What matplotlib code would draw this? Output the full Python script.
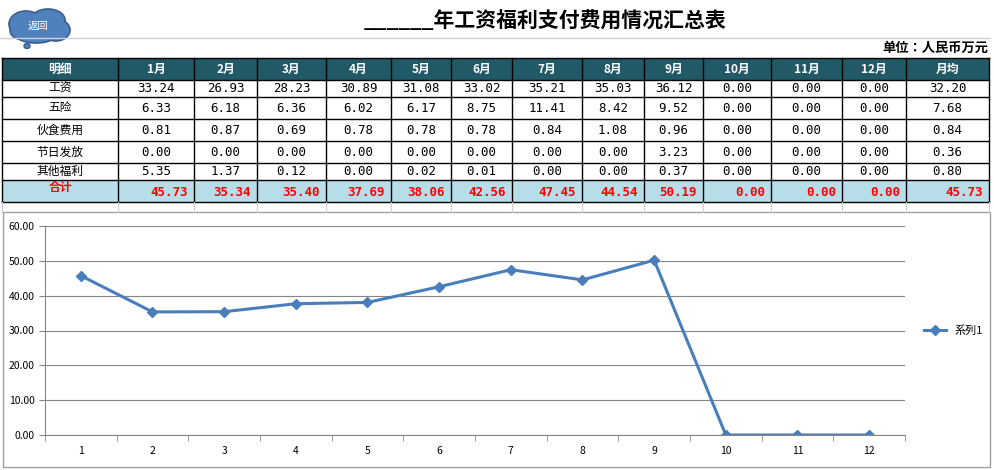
import matplotlib
matplotlib.use("Agg")
import matplotlib.pyplot as plt
from matplotlib.patches import Rectangle, Ellipse
from matplotlib import font_manager

names = {f.name for f in font_manager.fontManager.ttflist}
cjk = [n for n in ["Noto Sans CJK SC","Noto Sans CJK JP","Noto Sans CJK TC","Noto Sans CJK KR"] if n in names]
plt.rcParams["font.family"] = cjk + ["DejaVu Sans"]
MONO = ["DejaVu Sans Mono"] + cjk

months = ["1月","2月","3月","4月","5月","6月","7月","8月","9月","10月","11月","12月"]
row_names = ["工资","五险","伙食费用","节日发放","其他福利"]
wage     = [33.24,26.93,28.23,30.89,31.08,33.02,35.21,35.03,36.12,0,0,0]
insur    = [6.33,6.18,6.36,6.02,6.17,8.75,11.41,8.42,9.52,0,0,0]
food     = [0.81,0.87,0.69,0.78,0.78,0.78,0.84,1.08,0.96,0,0,0]
holiday  = [0,0,0,0,0,0,0,0,3.23,0,0,0]
other    = [5.35,1.37,0.12,0,0.02,0.01,0,0,0.37,0,0,0]
avg      = [32.20,7.68,0.84,0.36,0.80]
totals   = [45.73,35.34,35.40,37.69,38.06,42.56,47.45,44.54,50.19,0,0,0]
total_avg = 45.73
series_name = "系列1"

fig = plt.figure(figsize=(9.95,4.7), dpi=100)
bg = fig.add_axes([0,0,1,1])
bg.set_xlim(0,995); bg.set_ylim(470,0); bg.axis("off")

bg.text(545,20,"______年工资福利支付费用情况汇总表",ha="center",va="center",fontsize=15,fontweight="bold")
bg.plot([0,990],[38,38],color="#d0d0d0",lw=1)
bg.text(988,48,"单位：人民币万元",ha="right",va="center",fontsize=9.5,fontweight="bold")
for cx,cy,w,h in [(26,24,34,26),(48,20,34,22),(56,30,28,22),(36,33,44,20),(20,30,20,18)]:
    bg.add_patch(Ellipse((cx,cy),w,h,facecolor="#4f81bd",edgecolor="#385d8a",lw=1.2))
for cx,cy,w,h in [(26,24,32,24),(48,20,32,20),(56,30,26,20),(36,33,42,18),(20,30,18,16)]:
    bg.add_patch(Ellipse((cx,cy),w,h,facecolor="#4f81bd",edgecolor="none"))
bg.add_patch(Ellipse((27,46),6,5,facecolor="#4f81bd",edgecolor="#385d8a"))
bg.text(38,26,"返回",ha="center",va="center",fontsize=7.5,color="white")

xs = [2,118,194,257,326,391,451,512,582,644,703,771,842,906,989]
ys = [58,80,97,119,141,163,180,202]
bg.add_patch(Rectangle((xs[0],ys[0]),xs[-1]-xs[0],ys[1]-ys[0],facecolor="#215967",edgecolor="none"))
bg.add_patch(Rectangle((xs[0],ys[6]),xs[-1]-xs[0],ys[7]-ys[6],facecolor="#b7dde8",edgecolor="none"))
headers = ["明细"]+months+["月均"]
for i,h in enumerate(headers):
    bg.text((xs[i]+xs[i+1])/2,(ys[0]+ys[1])/2,h,ha="center",va="center",color="white",fontsize=8.5,fontweight="bold")
rows = [wage,insur,food,holiday,other]
for r,(name,vals) in enumerate(zip(row_names,rows)):
    yc=(ys[r+1]+ys[r+2])/2
    bg.text((xs[0]+xs[1])/2,yc,name,ha="center",va="center",fontsize=8.5)
    for i,v in enumerate(vals+[avg[r]]):
        bg.text((xs[i+1]+xs[i+2])/2,yc,f"{v:.2f}",ha="center",va="center",fontsize=9,family=MONO)
yc=(ys[6]+ys[7])/2
bg.text((xs[0]+xs[1])/2,yc-3,"合计",ha="center",va="center",fontsize=8.5,color="red",fontweight="bold")
for i,v in enumerate(totals+[total_avg]):
    bg.text(xs[i+2]-6,yc+2,f"{v:.2f}",ha="right",va="center",fontsize=9,color="red",fontweight="bold",family=MONO)
for y in ys:
    bg.plot([xs[0],xs[-1]],[y,y],color="black",lw=1)
for x in xs:
    bg.plot([x,x],[ys[0],ys[-1]],color="black",lw=1)
for x in xs:
    bg.plot([x,x],[ys[-1],212],color="#d0d0d0",lw=0.8)
bg.add_patch(Rectangle((3,212),987,255,facecolor="white",edgecolor="#a0a0a0",lw=1))

ax = fig.add_axes([45/995,1-435/470,(905-45)/995,(435-226)/470])
x = list(range(1,13))
ax.plot(x,totals,color="#4a7ebb",lw=2.2,marker="D",markersize=5,label=series_name)
ax.set_xlim(0.5,12.5); ax.set_ylim(0,60)
ax.set_yticks(range(0,61,10))
ax.set_yticklabels([f"{v:.2f}" for v in range(0,61,10)],fontsize=7.5)
ax.set_xticks(x); ax.set_xticklabels([str(i) for i in x],fontsize=7.5)
ax.set_xticks([i+0.5 for i in range(0,13)],minor=True)
ax.tick_params(axis="x",which="major",length=0,pad=8)
ax.tick_params(axis="x",which="minor",length=4,color="#868686")
ax.tick_params(axis="y",length=4,color="#868686")
ax.grid(axis="y",color="#868686",lw=0.8)
ax.set_axisbelow(True)
for s in ["top","right"]: ax.spines[s].set_visible(False)
for s in ["left","bottom"]: ax.spines[s].set_color("#868686")
ax.legend(loc="center left",bbox_to_anchor=(1.01,0.5),frameon=False,fontsize=8,handlelength=2)

fig.savefig("out.png",dpi=100)
